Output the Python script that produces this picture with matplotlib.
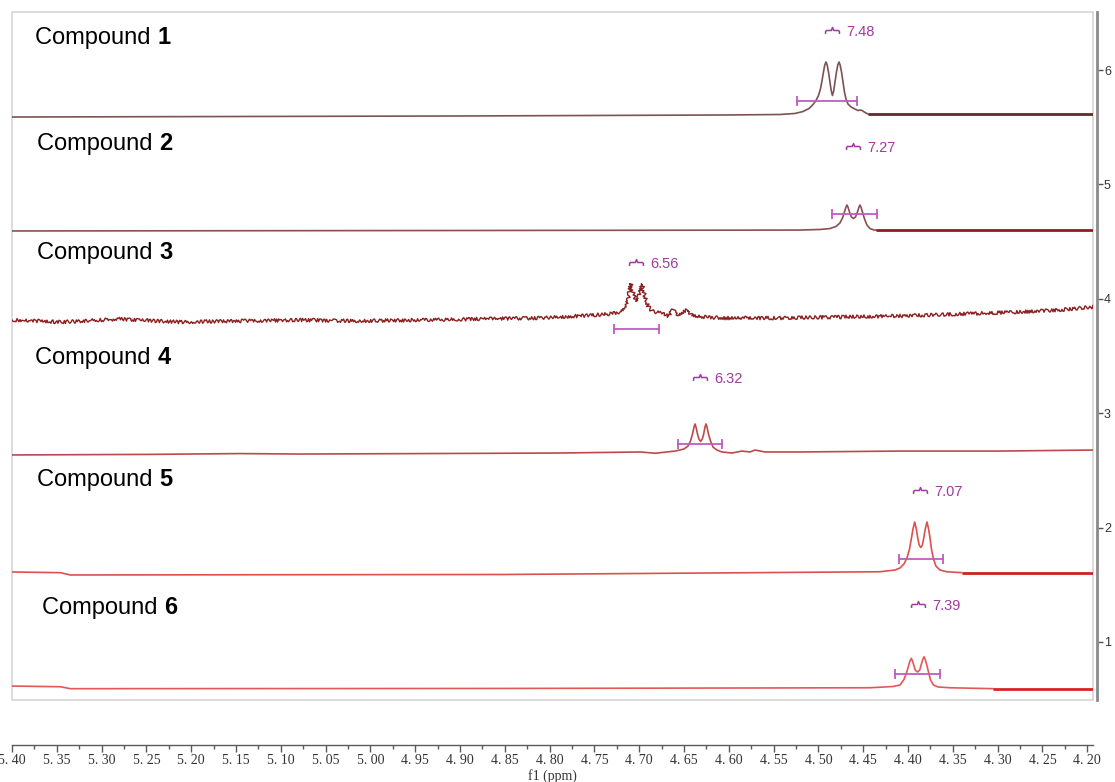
import matplotlib
matplotlib.use("Agg")
import matplotlib.pyplot as plt
from matplotlib.path import Path
from matplotlib.patches import Rectangle
from matplotlib.ticker import MultipleLocator, FuncFormatter

# ---------------- data (ppm, intensity on the stacked right-hand scale) ----------------
compound_numbers = ["1", "2", "3", "4", "5", "6"]
integral_values = ["7.48", "7.27", "6.56", "6.32", "7.07", "7.39"]

c1_ppm = [5.400, 4.900, 4.600, 4.5429, 4.5261, 4.5172, 4.5105, 4.5060, 4.5027, 4.4999, 4.4977,
          4.4960, 4.4943, 4.4929, 4.4915, 4.4902, 4.4887, 4.4871, 4.4856, 4.4843, 4.4829,
          4.4815, 4.4798, 4.4783, 4.4770, 4.4757, 4.4742, 4.4725, 4.4709, 4.4692, 4.4670,
          4.4636, 4.4592, 4.4558, 4.4536, 4.4513, 4.4480, 4.4446]
c1_int = [5.589, 5.598, 5.607, 5.611, 5.620, 5.637, 5.663, 5.698, 5.733, 5.777, 5.834,
          5.904, 5.983, 6.044, 6.070, 6.044, 5.983, 5.895, 5.817, 5.777, 5.817,
          5.895, 5.983, 6.044, 6.070, 6.044, 5.983, 5.895, 5.808, 5.747, 5.703,
          5.677, 5.659, 5.646, 5.650, 5.646, 5.629, 5.615]
c1_tail_ppm = [4.4446, 4.1935]
c1_tail_int = [5.615, 5.615]

c2_ppm = [5.400, 4.900, 4.600, 4.5205, 4.4982, 4.4871, 4.4804, 4.4759, 4.4731, 4.4709, 4.4692,
          4.4681, 4.4670, 4.4653, 4.4631, 4.4608, 4.4586, 4.4564, 4.4547, 4.4536, 4.4525,
          4.4508, 4.4485, 4.4458, 4.4424, 4.4379, 4.4357]
c2_int = [4.593, 4.597, 4.600, 4.601, 4.606, 4.614, 4.632, 4.663, 4.706, 4.759, 4.802,
          4.820, 4.802, 4.759, 4.715, 4.702, 4.715, 4.759, 4.802, 4.820, 4.802,
          4.759, 4.698, 4.645, 4.614, 4.601, 4.601]
c2_tail_ppm = [4.4357, 4.1935]
c2_tail_int = [4.601, 4.601]

c3_ppm = [5.400, 5.346, 5.280, 5.213, 5.146, 5.079, 5.012, 4.945, 4.878, 4.811, 4.766, 4.733,
          4.721, 4.7147, 4.7125, 4.7108, 4.7092, 4.7075, 4.7058, 4.7030, 4.7002, 4.6986, 4.6969,
          4.6952, 4.6935, 4.6902, 4.6857, 4.6768, 4.6679, 4.6623, 4.6567, 4.6500, 4.6455,
          4.6411, 4.6098, 4.5429, 4.4759, 4.4089, 4.3420, 4.2750, 4.2304, 4.1935]
c3_int = [3.815, 3.797, 3.823, 3.797, 3.806, 3.815, 3.806, 3.815, 3.823, 3.832, 3.850, 3.867,
          3.885, 3.920, 3.989, 4.077, 4.129, 4.077, 4.024, 3.981, 4.033, 4.085, 4.129,
          4.077, 4.016, 3.937, 3.893, 3.876, 3.850, 3.902, 3.850, 3.893, 3.902,
          3.850, 3.832, 3.832, 3.841, 3.850, 3.867, 3.885, 3.902, 3.928]

c4_ppm = [5.400, 5.246, 5.146, 5.079, 4.911, 4.788, 4.699, 4.682, 4.660, 4.6500, 4.6455, 4.6427,
          4.6405, 4.6388, 4.6377, 4.6366, 4.6349, 4.6333, 4.6314, 4.6296, 4.6280, 4.6266,
          4.6254, 4.6243, 4.6227, 4.6204, 4.6176, 4.6132, 4.6076, 4.5964, 4.5853, 4.5763,
          4.5708, 4.5596, 4.5205, 4.4089, 4.2973, 4.1935]
c4_int = [2.635, 2.640, 2.647, 2.643, 2.648, 2.652, 2.661, 2.650, 2.669, 2.687, 2.713, 2.757,
          2.818, 2.879, 2.906, 2.879, 2.818, 2.774, 2.753, 2.774, 2.818, 2.879,
          2.906, 2.879, 2.818, 2.757, 2.704, 2.678, 2.661, 2.652, 2.669, 2.661,
          2.678, 2.661, 2.661, 2.669, 2.669, 2.678]

c5_ppm = [5.400, 5.346, 5.335, 4.855, 4.4313, 4.4145, 4.4089, 4.4045, 4.4011, 4.3983, 4.3961,
          4.3944, 4.3925, 4.3907, 4.3891, 4.3875, 4.3857, 4.3839, 4.3824, 4.3807, 4.3788,
          4.3770, 4.3754, 4.3738, 4.3715, 4.3688, 4.3643, 4.3568, 4.3400]
c5_int = [1.612, 1.606, 1.586, 1.590, 1.614, 1.629, 1.647, 1.682, 1.734, 1.813, 1.909,
          1.988, 2.049, 1.988, 1.909, 1.848, 1.826, 1.848, 1.909, 1.988, 2.049,
          1.988, 1.909, 1.813, 1.725, 1.664, 1.629, 1.614, 1.606]
c5_tail_ppm = [4.3400, 4.1935]
c5_tail_int = [1.606, 1.606]

c6_ppm = [5.400, 5.346, 5.335, 4.855, 4.4424, 4.4167, 4.4089, 4.4045, 4.4017, 4.3994, 4.3978,
          4.3963, 4.3949, 4.3933, 4.3916, 4.3892, 4.3869, 4.3853, 4.3837, 4.3821, 4.3806,
          4.3790, 4.3771, 4.3749, 4.3715, 4.3665, 4.3531, 4.3051]
c6_int = [0.615, 0.609, 0.592, 0.594, 0.600, 0.611, 0.624, 0.672, 0.729, 0.790, 0.834,
          0.857, 0.834, 0.790, 0.751, 0.738, 0.755, 0.799, 0.843, 0.871, 0.843,
          0.799, 0.738, 0.668, 0.624, 0.607, 0.600, 0.592]
c6_tail_ppm = [4.3051, 4.1935]
c6_tail_int = [0.592, 0.592]

# integration bars: (start ppm, end ppm, level)
integral_start = [4.5234, 4.4848, 4.7281, 4.6567, 4.4100, 4.4145]
integral_end = [4.4569, 4.4346, 4.6779, 4.6076, 4.3609, 4.3643]
integral_level = [5.729, 4.741, 3.736, 2.730, 1.726, 0.720]
# integral label anchors (bracket position)
label_ppm = [4.4848, 4.4614, 4.7036, 4.6321, 4.3866, 4.3885]
label_int = [6.350, 5.336, 4.322, 3.316, 2.329, 1.332]

# ---------------- styles / layout ----------------
trace_colors = ["#7d5252", "#8a5050", "#8b1e1e", "#bd4a4a", "#dc5050", "#e45757"]
tail_colors = ["#5e2a2a", "#8a1e1e", None, None, "#c82424", "#d82424"]
purple_text = "#a03aa0"
purple_bar = "#c05cc0"

name_x = [5.3743, 5.3721, 5.3721, 5.3743, 5.3721, 5.3665]
name_y = [6.280, 5.353, 4.400, 3.483, 2.416, 1.297]

W, H = 1115, 782
fig = plt.figure(figsize=(W / 100, H / 100), dpi=100)
ax = fig.add_axes([12 / W, 1 - 700 / H, (1093 - 12) / W, (700 - 12) / H])
ax.set_xlim(5.40, 4.1935)
ax.set_ylim(0.493, 6.507)

traces = [(c1_ppm, c1_int), (c2_ppm, c2_int), (c3_ppm, c3_int),
          (c4_ppm, c4_int), (c5_ppm, c5_int), (c6_ppm, c6_int)]
tails = [(c1_tail_ppm, c1_tail_int), (c2_tail_ppm, c2_tail_int), None, None,
         (c5_tail_ppm, c5_tail_int), (c6_tail_ppm, c6_tail_int)]

for i, (xs, ys) in enumerate(traces):
    ln, = ax.plot(xs, ys, color=trace_colors[i], lw=1.2, solid_joinstyle="round", zorder=3)
    if i == 2:
        ln.set_linewidth(1.0)
        ln.set_sketch_params(scale=1.7, length=2.5, randomness=3)
    if tails[i] is not None:
        ax.plot(tails[i][0], tails[i][1], color=tail_colors[i], lw=2.0, zorder=3,
                solid_capstyle="butt")

# integration bars
for s, e, lv in zip(integral_start, integral_end, integral_level):
    ax.plot([s, e], [lv, lv], color=purple_bar, lw=1.3, zorder=4)
    ax.plot([s, e], [lv, lv], color=purple_bar, lw=0, marker="|", markersize=7,
            markeredgewidth=1.3, zorder=4)

# integral brace markers + labels
brace = Path([(-7, -3.5), (-7, -1), (-6, 0), (-1.2, 0), (0, 3), (1.2, 0), (6, 0), (7, -1), (7, -3.5)],
             [Path.MOVETO] + [Path.LINETO] * 8)
for px, py, val in zip(label_ppm, label_int, integral_values):
    ax.plot([px], [py], marker=brace, markersize=10, markerfacecolor="none",
            markeredgecolor=purple_text, markeredgewidth=1.1, lw=0, zorder=4)
    ax.annotate(val, xy=(px, py), xytext=(14, -2), textcoords="offset pixels",
                ha="left", va="center", fontsize=10.5, color=purple_text,
                family="Liberation Sans")

# compound names
for nx, ny, num in zip(name_x, name_y, compound_numbers):
    t = ax.text(nx, ny, "Compound ", fontsize=17, family="Liberation Sans",
                ha="left", va="center", color="black")
    ax.annotate(num, xy=(1, 0), xycoords=t, ha="left", va="bottom", fontsize=17,
                fontweight="bold", family="Liberation Sans", color="black")

# frame
ax.add_patch(Rectangle((0, 0), 1, 1, transform=ax.transAxes, fill=False,
                       edgecolor="#d6d6d6", lw=1.2, zorder=1, clip_on=False))

for sp in ["left", "top"]:
    ax.spines[sp].set_visible(False)
ax.spines["right"].set_position(("outward", 2.9))
ax.spines["right"].set_color("#8a8a8a")
ax.spines["right"].set_linewidth(2)
ax.spines["bottom"].set_position(("outward", 32.2))
ax.spines["bottom"].set_color("#5a5a5a")
ax.spines["bottom"].set_linewidth(1)

ax.yaxis.tick_right()
ax.set_yticks([1, 2, 3, 4, 5, 6])
ax.tick_params(axis="y", direction="out", length=4, width=1, colors="#555555",
               labelsize=9, pad=1)
for lab in ax.get_yticklabels():
    lab.set_family("Liberation Sans")
    lab.set_color("#333333")

ax.xaxis.set_major_locator(MultipleLocator(0.05))
ax.xaxis.set_minor_locator(MultipleLocator(0.025))
ax.xaxis.set_major_formatter(FuncFormatter(lambda v, p: ("%.2f" % v).replace(".", ". ")))
ax.tick_params(axis="x", which="major", direction="out", length=5, width=1,
               colors="#5a5a5a", labelsize=10, pad=2)
ax.tick_params(axis="x", which="minor", direction="out", length=3, width=1, colors="#5a5a5a")
for lab in ax.get_xticklabels():
    lab.set_family("Liberation Serif")
    lab.set_color("#333333")
ax.set_xlabel("f1 (ppm)", fontsize=10, family="Liberation Serif", color="#333333", labelpad=1)

fig.savefig("out.png", dpi=100)
